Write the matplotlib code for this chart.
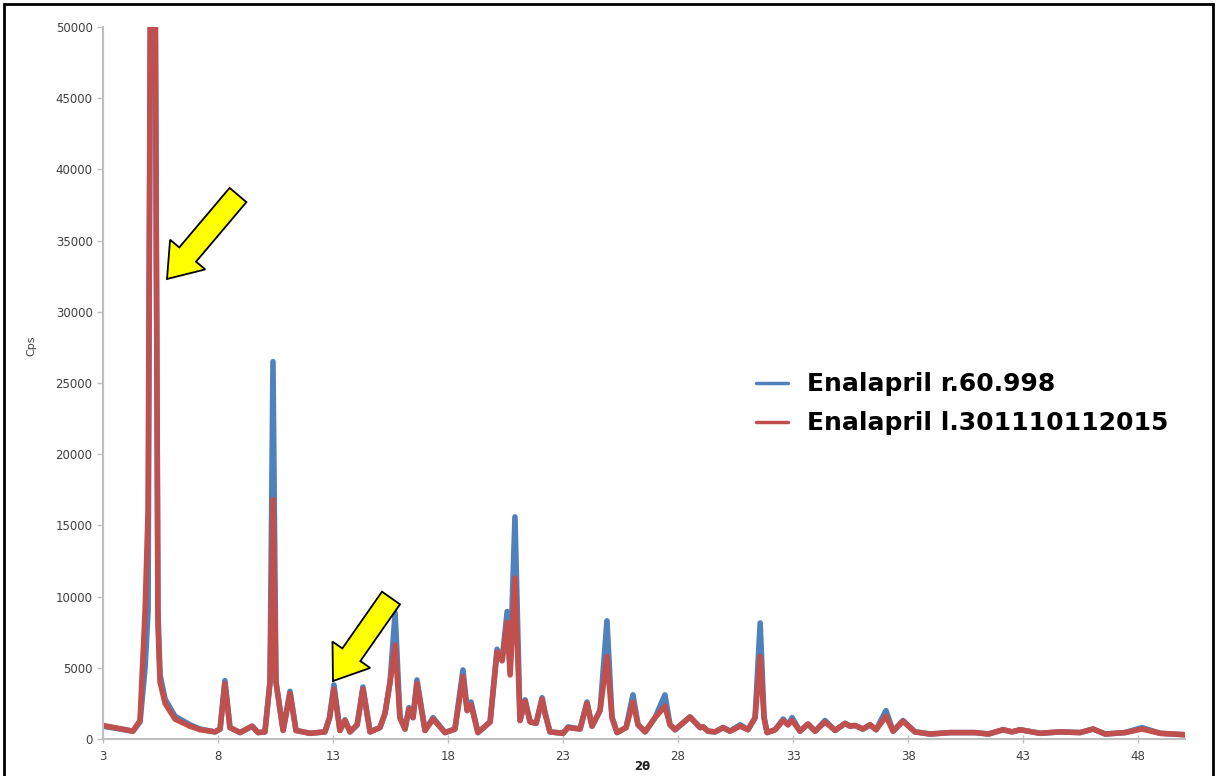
import matplotlib
matplotlib.use("Agg")
import matplotlib.pyplot as plt
from matplotlib.patches import FancyArrow, Rectangle
from matplotlib.transforms import IdentityTransform

# ---- data ----
two_theta = [3.0, 4.30, 4.61, 4.83, 4.96, 5.08, 5.25, 5.39, 5.48, 5.70, 6.13, 6.78, 7.22, 7.87,
             8.09, 8.30, 8.52, 8.96, 9.48, 9.74, 10.04, 10.26, 10.39, 10.52, 10.83, 11.13, 11.39,
             12.0, 12.65, 12.85, 13.04, 13.30, 13.52, 13.74, 14.05, 14.30, 14.61, 15.04, 15.26,
             15.48, 15.70, 15.91, 16.13, 16.30, 16.48, 16.65, 17.0, 17.35, 17.87, 18.30, 18.65,
             18.83, 19.0, 19.30, 19.83, 20.13, 20.35, 20.57, 20.70, 20.91, 21.13, 21.35, 21.57,
             21.83, 22.09, 22.22, 22.43, 23.0, 23.22, 23.74, 24.04, 24.26, 24.61, 24.91, 25.13,
             25.35, 25.74, 26.04, 26.26, 26.57, 27.0, 27.43, 27.65, 27.87, 28.52, 28.96, 29.09,
             29.30, 29.61, 29.96, 30.26, 30.70, 31.04, 31.35, 31.57, 31.74, 31.87, 32.22, 32.57,
             32.78, 32.96, 33.30, 33.65, 33.96, 34.39, 34.83, 35.26, 35.48, 35.70, 36.04, 36.35,
             36.61, 37.04, 37.35, 37.78, 38.30, 38.96, 39.83, 40.91, 41.5, 42.13, 42.52, 42.87,
             43.74, 44.61, 45.48, 46.04, 46.57, 47.43, 48.17, 48.96, 50.04]

cps_r60998 = [900, 550, 1200, 5000, 9000, 60000, 60000, 9000, 4500, 2800, 1600, 1000, 700, 500,
              700, 4100, 800, 450, 900, 450, 500, 4000, 26500, 4000, 600, 3350, 600,
              400, 500, 1500, 3800, 600, 1350, 500, 1000, 3650, 500, 800, 1800,
              4000, 8850, 1500, 700, 2200, 1500, 4150, 600, 1500, 450, 700, 4850,
              2000, 2600, 450, 1200, 6300, 5500, 8950, 5000, 15600, 1300, 2750, 1200,
              1100, 2900, 1800, 500, 400, 850, 700, 2600, 900, 2000, 8300, 1500,
              450, 800, 3100, 1000, 500, 1500, 3100, 1000, 650, 1550, 800, 850,
              550, 500, 800, 550, 1000, 650, 1500, 8150, 1500, 450, 650, 1400,
              1000, 1500, 550, 1050, 550, 1300, 600, 1100, 900, 950, 700, 1000,
              650, 2000, 550, 1300, 500, 350, 450, 450, 350, 650, 500, 650,
              400, 500, 450, 700, 350, 450, 800, 400, 300]

cps_l301110112015 = [950, 550, 1300, 9000, 16000, 60000, 60000, 8000, 4000, 2500, 1400, 900, 650, 500,
                     700, 3900, 800, 450, 900, 450, 500, 4000, 16800, 4000, 600, 3200, 600,
                     400, 500, 1500, 3500, 600, 1300, 500, 1000, 3500, 500, 800, 1800,
                     4000, 6600, 1500, 700, 2100, 1500, 3900, 600, 1400, 450, 700, 4400,
                     2000, 2400, 450, 1200, 6100, 5500, 8200, 4500, 11300, 1300, 2650, 1200,
                     1100, 2800, 1800, 500, 400, 800, 700, 2500, 900, 2000, 5800, 1500,
                     450, 800, 2600, 1000, 500, 1500, 2300, 1000, 650, 1550, 800, 850,
                     550, 500, 800, 550, 900, 650, 1500, 5800, 1500, 450, 650, 1300,
                     1000, 1300, 550, 1050, 550, 1200, 600, 1100, 900, 950, 700, 1000,
                     650, 1600, 550, 1250, 500, 350, 450, 450, 350, 650, 500, 650,
                     400, 500, 450, 700, 350, 450, 700, 400, 300]

series_labels = ["Enalapril r.60.998", "Enalapril l.301110112015"]
x_ticks = [3, 8, 13, 18, 23, 28, 33, 38, 43, 48]
y_ticks = [0, 5000, 10000, 15000, 20000, 25000, 30000, 35000, 40000, 45000, 50000]

W, H = 1219, 776
fig = plt.figure(figsize=(W / 100, H / 100), dpi=100)
ax = fig.add_axes([103 / W, 1 - 739 / H, (1185 - 103) / W, (739 - 27) / H])

blue = "#4F81BD"
red = "#C0504D"
ax.plot(two_theta, cps_r60998, color=blue, lw=4, label=series_labels[0],
        solid_joinstyle="round", solid_capstyle="round")
ax.plot(two_theta, cps_l301110112015, color=red, lw=4, label=series_labels[1],
        solid_joinstyle="round", solid_capstyle="round")

ax.set_xlim(3, 50.04)
ax.set_ylim(0, 50000)
ax.set_xticks(x_ticks)
ax.set_yticks(y_ticks)
ax.set_xticklabels([str(v) for v in x_ticks])
ax.set_yticklabels([str(v) for v in y_ticks])

for s in ["top", "right"]:
    ax.spines[s].set_visible(False)
for s in ["left", "bottom"]:
    ax.spines[s].set_color("#BFBFBF")
    ax.spines[s].set_linewidth(1.5)
ax.tick_params(axis="both", colors="#BFBFBF", labelcolor="#404040", labelsize=8.5, length=4, width=1)
ax.tick_params(axis="x", direction="inout", length=6, pad=5)

ax.set_ylabel("Cps", fontsize=8, color="#404040")
ax.yaxis.set_label_coords(-0.062, 0.553)
ax.set_xlabel("2θ", fontsize=8.5, color="#202020", fontweight="bold")
ax.xaxis.set_label_coords(0.498, -0.030)

leg = ax.legend(loc="upper left", bbox_to_anchor=(733 / W, 1 - 350 / H), bbox_transform=fig.transFigure,
                frameon=False, prop={"family": "DejaVu Sans", "weight": "bold", "size": 18},
                handlelength=1.3, handletextpad=0.75, labelspacing=0.6)
for lh in leg.get_lines():
    lh.set_linewidth(2.5)

# yellow arrows (pixel coordinates, origin bottom-left)
def arrow(tail, tip):
    x0, y0 = tail[0], H - tail[1]
    x1, y1 = tip[0], H - tip[1]
    a = FancyArrow(x0, y0, x1 - x0, y1 - y0, width=22, head_width=46, head_length=32,
                   length_includes_head=True, transform=IdentityTransform(),
                   facecolor="#FFFF00", edgecolor="black", lw=1.3, zorder=10)
    fig.add_artist(a)

arrow((238, 195), (167, 279))
arrow((391, 598), (333, 681))

# outer frame
fig.add_artist(Rectangle((4 / W, -0.02), (1213 - 4) / W, 1.02 - 4 / H, transform=fig.transFigure,
                         fill=False, edgecolor="black", lw=2))

fig.savefig("out.png", dpi=100)
